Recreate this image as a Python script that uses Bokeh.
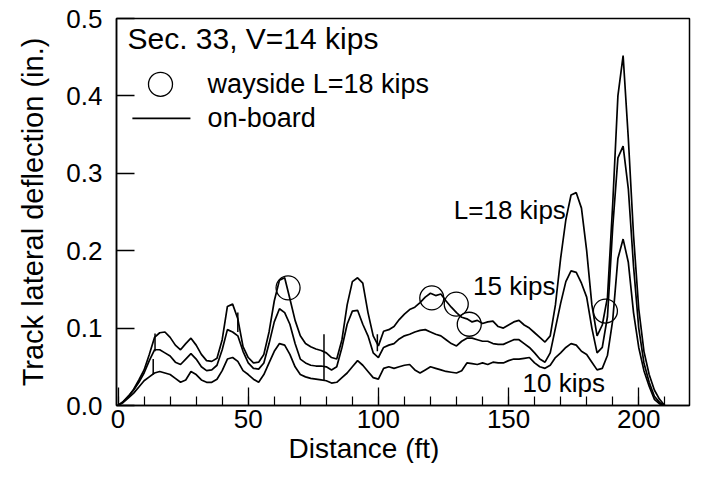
from bokeh.plotting import figure
from bokeh.models import Range1d, SingleIntervalTicker, Label, PrintfTickFormatter, Title
from bokeh.embed import file_html
from bokeh.resources import INLINE

FONT = "Liberation Sans"

# Distance grid (ft)
dist = [0, 2, 4, 6, 8, 10, 12, 14, 16, 18, 20, 22, 24, 26, 28, 30, 32, 34, 36, 38,
        40, 42, 44, 46, 48, 50, 52, 54, 56, 58, 60, 62, 64, 66, 68, 70, 72, 74, 76, 78,
        80, 82, 84, 86, 88, 90, 92, 94, 96, 98, 100, 102, 104, 106, 108, 110, 112, 114, 116, 118,
        120, 122, 124, 126, 128, 130, 132, 134, 136, 138, 140, 142, 144, 146, 148, 150, 152, 154, 156, 158,
        160, 162, 164, 166, 168, 170, 172, 174, 176, 178, 180, 182, 184, 186, 188, 190, 192, 194, 196, 198,
        200, 202, 204, 206, 208, 210]

# On-board deflection (in.), L = 18 kips
load18 = [0.000, 0.005, 0.012, 0.021, 0.033, 0.046, 0.066, 0.088, 0.094, 0.095, 0.088, 0.078, 0.072, 0.080, 0.087, 0.078, 0.066, 0.058, 0.057, 0.061,
          0.085, 0.128, 0.131, 0.112, 0.076, 0.062, 0.055, 0.056, 0.066, 0.095, 0.135, 0.162, 0.165, 0.138, 0.110, 0.090, 0.080, 0.076, 0.073, 0.071,
          0.068, 0.062, 0.060, 0.085, 0.130, 0.160, 0.165, 0.158, 0.120, 0.090, 0.077, 0.096, 0.098, 0.102, 0.111, 0.118, 0.124, 0.127, 0.133, 0.140,
          0.145, 0.142, 0.144, 0.135, 0.127, 0.120, 0.114, 0.112, 0.108, 0.110, 0.106, 0.108, 0.109, 0.102, 0.100, 0.104, 0.108, 0.110, 0.104, 0.100,
          0.094, 0.088, 0.082, 0.090, 0.130, 0.190, 0.240, 0.272, 0.275, 0.255, 0.200, 0.130, 0.090, 0.104, 0.140, 0.260, 0.400, 0.452, 0.345, 0.220,
          0.125, 0.070, 0.040, 0.020, 0.008, 0.000]

# On-board deflection (in.), L = 15 kips
load15 = [0.000, 0.005, 0.012, 0.020, 0.030, 0.042, 0.058, 0.072, 0.072, 0.068, 0.064, 0.056, 0.053, 0.060, 0.067, 0.060, 0.050, 0.045, 0.046, 0.052,
          0.072, 0.098, 0.095, 0.090, 0.070, 0.055, 0.048, 0.047, 0.055, 0.080, 0.108, 0.125, 0.120, 0.105, 0.080, 0.060, 0.055, 0.052, 0.051, 0.051,
          0.050, 0.046, 0.050, 0.075, 0.105, 0.122, 0.123, 0.105, 0.090, 0.068, 0.062, 0.075, 0.078, 0.080, 0.086, 0.090, 0.092, 0.095, 0.097, 0.098,
          0.095, 0.092, 0.090, 0.085, 0.080, 0.077, 0.083, 0.087, 0.087, 0.085, 0.083, 0.083, 0.080, 0.079, 0.079, 0.082, 0.085, 0.085, 0.080, 0.075,
          0.068, 0.060, 0.056, 0.068, 0.100, 0.132, 0.160, 0.174, 0.172, 0.158, 0.140, 0.100, 0.068, 0.075, 0.115, 0.230, 0.320, 0.335, 0.280, 0.180,
          0.100, 0.055, 0.030, 0.012, 0.004, 0.000]

# On-board deflection (in.), L = 10 kips
load10 = [0.000, 0.004, 0.010, 0.016, 0.024, 0.032, 0.037, 0.042, 0.044, 0.042, 0.040, 0.035, 0.030, 0.033, 0.044, 0.040, 0.033, 0.030, 0.030, 0.034,
          0.045, 0.060, 0.062, 0.057, 0.045, 0.040, 0.034, 0.030, 0.040, 0.055, 0.070, 0.080, 0.078, 0.066, 0.050, 0.040, 0.037, 0.035, 0.034, 0.033,
          0.032, 0.029, 0.030, 0.036, 0.042, 0.050, 0.058, 0.052, 0.044, 0.036, 0.034, 0.048, 0.050, 0.048, 0.050, 0.052, 0.053, 0.046, 0.042, 0.046,
          0.050, 0.048, 0.046, 0.044, 0.043, 0.042, 0.045, 0.055, 0.054, 0.053, 0.055, 0.053, 0.056, 0.055, 0.055, 0.058, 0.060, 0.060, 0.061, 0.062,
          0.055, 0.050, 0.048, 0.052, 0.062, 0.068, 0.075, 0.080, 0.078, 0.070, 0.066, 0.056, 0.046, 0.048, 0.065, 0.110, 0.190, 0.215, 0.185, 0.120,
          0.075, 0.045, 0.025, 0.008, 0.002, 0.000]

# Short vertical glitches in the on-board records
glitch_x = [13.5, 14.2, 46.0, 79.1, 99.6]
glitch_lo = [0.040, 0.070, 0.095, 0.033, 0.070]
glitch_hi = [0.060, 0.093, 0.120, 0.092, 0.092]

# Wayside measurements, L = 18 kips
way_x = [65.3, 120.5, 129.9, 134.9, 187.2]
way_y = [0.152, 0.139, 0.131, 0.105, 0.122]

p = figure(width=691, height=463, x_range=Range1d(-0.6, 219.5), y_range=Range1d(0, 0.5),
           output_backend="svg", toolbar_location=None, title=None,
           min_border_left=116, min_border_right=2, min_border_top=18, min_border_bottom=20)
p.background_fill_color = "white"
p.border_fill_color = "white"
p.xgrid.visible = False
p.ygrid.visible = False
p.outline_line_color = "black"
p.outline_line_width = 1.5
p.outline_line_alpha = 1.0

p.xaxis.ticker = SingleIntervalTicker(interval=50, num_minor_ticks=5)
p.yaxis.ticker = SingleIntervalTicker(interval=0.1, num_minor_ticks=0)
p.yaxis.formatter = PrintfTickFormatter(format="%.1f")
for ax in (p.xaxis[0], p.yaxis[0]):
    ax.axis_line_color = "black"
    ax.axis_line_width = 1.5
    ax.major_tick_in = 18
    ax.major_tick_out = 0
    ax.minor_tick_in = 9
    ax.minor_tick_out = 0
    ax.major_tick_line_width = 1.3
    ax.minor_tick_line_width = 1.2
    ax.major_tick_line_color = "black"
    ax.minor_tick_line_color = "black"
    ax.major_label_text_font = FONT
    ax.major_label_text_font_size = "26px"
    ax.major_label_text_color = "black"
    ax.axis_label_text_font = FONT
    ax.axis_label_text_font_size = "29px"
    ax.axis_label_text_font_style = "normal"
    ax.axis_label_text_color = "black"
p.xaxis.major_label_standoff = 4
p.yaxis.major_label_standoff = 14
p.yaxis.axis_label = "Track lateral deflection (in.)"
p.yaxis.axis_label_standoff = 14

xtitle = Title(text="Distance (ft)", align="left", offset=172, standoff=0,
               text_font=FONT, text_font_size="28px", text_font_style="normal",
               text_color="black")
p.add_layout(xtitle, "below")

for ys in (load18, load15, load10):
    p.line(dist, ys, line_color="black", line_width=1.7)
p.segment(x0=glitch_x, y0=glitch_lo, x1=glitch_x, y1=glitch_hi, line_color="black", line_width=1.5)

p.scatter(way_x, way_y, marker="circle", size=24, fill_color=None, line_color="black", line_width=1.3)

# Curve labels
p.add_layout(Label(x=172, y=0.252, text="L=18 kips", text_font=FONT, text_font_size="26px",
                   text_align="right", text_baseline="middle", text_color="black"))
p.add_layout(Label(x=168, y=0.155, text="15 kips", text_font=FONT, text_font_size="26px",
                   text_align="right", text_baseline="middle", text_color="black"))
p.add_layout(Label(x=187, y=0.029, text="10 kips", text_font=FONT, text_font_size="26px",
                   text_align="right", text_baseline="middle", text_color="black"))

# Legend box contents
p.add_layout(Label(x=3.6, y=0.474, text="Sec. 33, V=14 kips", text_font=FONT, text_font_size="30px",
                   text_align="left", text_baseline="middle", text_color="black"))
p.scatter([16.3], [0.415], marker="circle", size=24, fill_color=None, line_color="black", line_width=1.3)
p.add_layout(Label(x=34.4, y=0.416, text="wayside L=18 kips", text_font=FONT, text_font_size="27px",
                   text_align="left", text_baseline="middle", text_color="black"))
p.line([5.5, 27.8], [0.371, 0.371], line_color="black", line_width=1.7)
p.add_layout(Label(x=34.4, y=0.371, text="on-board", text_font=FONT, text_font_size="27px",
                   text_align="left", text_baseline="middle", text_color="black"))

open("out.html", "w").write(file_html(p, INLINE))
